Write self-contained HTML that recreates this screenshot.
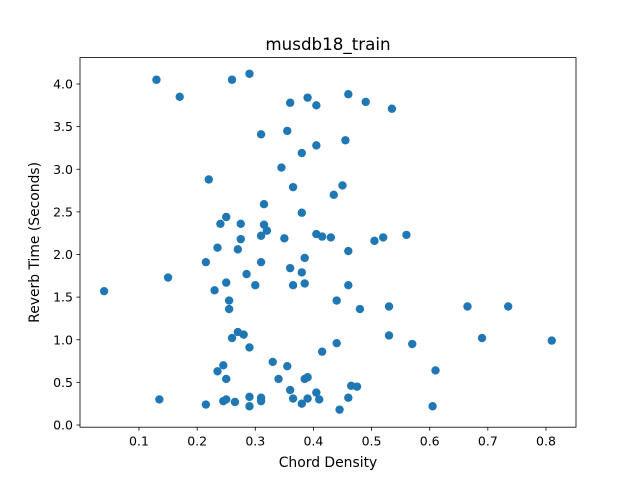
<!DOCTYPE html>
<html><head><meta charset="utf-8"><style>
body{margin:0;background:#fff;}
svg{font-family:"DejaVu Sans","Liberation Sans",sans-serif;}
</style></head><body>
<svg id="chart" width="640" height="480" viewBox="0 0 640 480">
<rect width="640" height="480" fill="#fff"/>
<g id="pts"></g>
<rect x="80" y="57.6" width="496" height="369.6" fill="none" stroke="#000" stroke-width="0.8"/>
<g id="xt"></g>
<g id="yt"></g>
<text x="328" y="50" text-anchor="middle" font-size="16.7">musdb18_train</text>
<text x="328" y="467" text-anchor="middle" font-size="13.9">Chord Density</text>
<text transform="translate(39,242.4) rotate(-90)" text-anchor="middle" font-size="13.9">Reverb Time (Seconds)</text>
</svg>
<script>
const xs=[0.13,0.17,0.26,0.29,0.04,0.135,0.15,0.215,0.22,0.23,0.235,0.24,0.25,0.25,0.255,0.255,0.235,0.245,0.25,0.245,0.25,0.215,0.265,0.26,0.27,0.28,0.29,0.27,0.275,0.275,0.285,0.3,0.29,0.29,0.31,0.31,0.31,0.31,0.315,0.315,0.32,0.31,0.33,0.34,0.345,0.35,0.355,0.355,0.36,0.36,0.365,0.365,0.36,0.365,0.38,0.38,0.38,0.385,0.385,0.385,0.39,0.38,0.39,0.39,0.405,0.405,0.405,0.415,0.405,0.41,0.415,0.43,0.435,0.44,0.44,0.445,0.45,0.455,0.46,0.46,0.46,0.46,0.465,0.475,0.48,0.49,0.505,0.52,0.53,0.53,0.535,0.56,0.57,0.605,0.61,0.665,0.69,0.735,0.81];
const ys=[4.05,3.85,4.05,4.12,1.57,0.30,1.73,1.91,2.88,1.58,2.08,2.36,2.44,1.67,1.46,1.36,0.63,0.70,0.54,0.28,0.30,0.24,0.27,1.02,1.09,1.06,0.91,2.06,2.18,2.36,1.77,1.64,0.33,0.22,0.32,0.28,1.91,2.22,2.35,2.59,2.28,3.41,0.74,0.54,3.02,2.19,3.45,0.69,3.78,1.84,2.79,1.64,0.41,0.31,3.19,2.49,1.79,1.96,1.66,0.54,0.56,0.25,0.31,3.84,3.75,3.28,2.24,2.21,0.38,0.30,0.86,2.20,2.70,1.46,0.96,0.18,2.81,3.34,3.88,2.04,1.64,0.32,0.46,0.45,1.36,3.79,2.16,2.20,1.39,1.05,3.71,2.23,0.95,0.22,0.64,1.39,1.02,1.39,0.99];
const xTicks=[0.1,0.2,0.3,0.4,0.5,0.6,0.7,0.8];
const yTicks=[0.0,0.5,1.0,1.5,2.0,2.5,3.0,3.5,4.0];
const X=v=>80.86+(v)*581.4;
const Y=v=>425-v*85.25;
const NS="http://www.w3.org/2000/svg";
const pts=document.getElementById('pts');
xs.forEach((x,i)=>{const c=document.createElementNS(NS,'circle');
c.setAttribute('cx',X(x));c.setAttribute('cy',Y(ys[i]));c.setAttribute('r',4.2);c.setAttribute('fill','#1f77b4');


pts.appendChild(c);});
const xt=document.getElementById('xt');
xTicks.forEach(t=>{const l=document.createElementNS(NS,'line');
l.setAttribute('x1',X(t));l.setAttribute('x2',X(t));l.setAttribute('y1',427.2);l.setAttribute('y2',430.7);l.setAttribute('stroke','#000');l.setAttribute('stroke-width','0.8');


xt.appendChild(l);
const s=document.createElementNS(NS,'text');s.setAttribute('x',X(t));s.setAttribute('y',445.5);s.setAttribute('text-anchor','middle');s.setAttribute('font-size','12.5');s.textContent=t.toFixed(1);


xt.appendChild(s);});
const yt=document.getElementById('yt');
yTicks.forEach(t=>{const l=document.createElementNS(NS,'line');
l.setAttribute('x1',76.5);l.setAttribute('x2',80);l.setAttribute('y1',Y(t));l.setAttribute('y2',Y(t));l.setAttribute('stroke','#000');l.setAttribute('stroke-width','0.8');


yt.appendChild(l);
const s=document.createElementNS(NS,'text');s.setAttribute('x',73);s.setAttribute('y',Y(t)+4.5);s.setAttribute('text-anchor','end');s.setAttribute('font-size','12.5');s.textContent=t.toFixed(1);


yt.appendChild(s);});
</script>
</body></html>
